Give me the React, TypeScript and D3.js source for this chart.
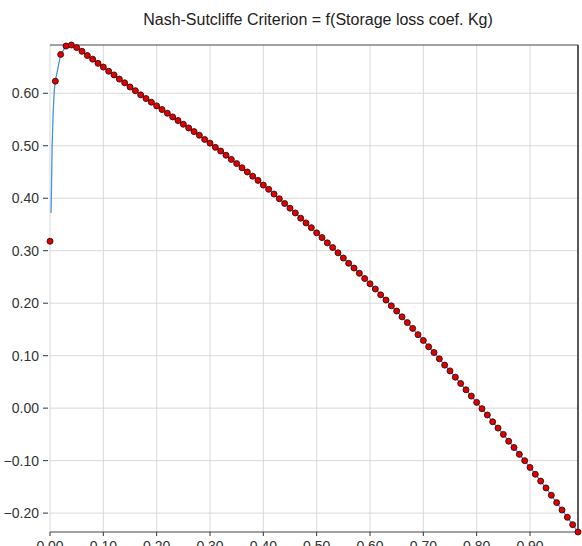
import React from 'react'
import * as d3 from 'd3'

// storage loss coefficient Kg, sampled every 0.01
const kg = d3.range(100).map(i => +(i * 0.01).toFixed(2));

// Nash-Sutcliffe value at each Kg
const nash = [
  0.318, 0.623, 0.674, 0.690, 0.692, 0.687, 0.680, 0.672, 0.665, 0.657,
  0.650, 0.642, 0.635, 0.627, 0.620, 0.612, 0.605, 0.597, 0.590, 0.583,
  0.576, 0.569, 0.562, 0.555, 0.548, 0.541, 0.534, 0.527, 0.520, 0.512,
  0.505, 0.497, 0.490, 0.482, 0.474, 0.466, 0.458, 0.450, 0.442, 0.434,
  0.425, 0.417, 0.408, 0.399, 0.390, 0.381, 0.372, 0.362, 0.353, 0.344,
  0.334, 0.325, 0.315, 0.306, 0.296, 0.286, 0.276, 0.267, 0.257, 0.247,
  0.237, 0.227, 0.216, 0.206, 0.195, 0.185, 0.174, 0.163, 0.152, 0.140,
  0.129, 0.117, 0.106, 0.094, 0.082, 0.071, 0.059, 0.047, 0.035, 0.023,
  0.011, -0.001, -0.013, -0.026, -0.038, -0.050, -0.063, -0.075, -0.088, -0.100,
  -0.113, -0.126, -0.139, -0.152, -0.166, -0.180, -0.194, -0.208, -0.222, -0.236,
];

// finer samples of the blue curve near the origin
const headKg = [0.002, 0.004, 0.006, 0.008];
const headNash = [0.372, 0.500, 0.565, 0.605];

const xTicks = [0, 0.1, 0.2, 0.3, 0.4, 0.5, 0.6, 0.7, 0.8, 0.9];
const yTicks = [-0.2, -0.1, 0, 0.1, 0.2, 0.3, 0.4, 0.5, 0.6];

const title = 'Nash-Sutcliffe Criterion = f(Storage loss coef. Kg)';

const width = 582;
const height = 546;
const left = 50;
const right = 578;
const top = 45;
const bottom = 532;

const x = d3.scaleLinear().domain([0, 0.99]).range([left, right]);
const y = d3.scaleLinear().domain([-0.236, 0.692]).range([bottom, top]);

const linePts: [number, number][] = [
  ...headKg.map((k, i) => [k, headNash[i]] as [number, number]),
  ...kg.slice(1).map((k, i) => [k, nash[i + 1]] as [number, number]),
];

const line = d3.line<[number, number]>()
  .x(d => x(d[0]))
  .y(d => y(d[1]));

const font = '"Liberation Sans", Arial, sans-serif';
const fmt = d3.format('.2f');

const App = () => (
  <svg
    width={width}
    height={height}
    style={{ position: 'absolute', left: 0, top: 0, background: '#fff' }}
    fontFamily={font}
  >
    <text x={318} y={25} textAnchor='middle' fontSize={16} fill='#222'>
      {title}
    </text>

    {xTicks.map(t => (
      <line key={'gx' + t} x1={x(t)} x2={x(t)} y1={top} y2={bottom} stroke='#d9d9d9' />
    ))}
    {yTicks.map(t => (
      <line key={'gy' + t} x1={left} x2={right} y1={y(t)} y2={y(t)} stroke='#d9d9d9' />
    ))}

    <line x1={left} x2={right} y1={top} y2={top} stroke='#444' />
    <line x1={right} x2={right} y1={top} y2={bottom} stroke='#222' strokeWidth={1.5} />
    <line x1={left} x2={right} y1={bottom} y2={bottom} stroke='#444' />

    {yTicks.map(t => (
      <g key={'ty' + t}>
        <line x1={43} x2={48} y1={y(t)} y2={y(t)} stroke='#333' />
        <text x={39} y={y(t)} dy='0.35em' textAnchor='end' fontSize={14} fill='#333'>
          {fmt(t)}
        </text>
      </g>
    ))}
    {xTicks.map(t => (
      <g key={'tx' + t}>
        <line x1={x(t)} x2={x(t)} y1={bottom} y2={bottom + 4} stroke='#333' />
        <text x={x(t)} y={bottom + 19} textAnchor='middle' fontSize={14} fill='#333'>
          {fmt(t)}
        </text>
      </g>
    ))}

    <path d={line(linePts) || ''} fill='none' stroke='#4a94dc' strokeWidth={1.3} />

    {kg.map((k, i) => (
      <circle key={i} cx={x(k)} cy={y(nash[i])} r={3} fill='#e00000' stroke='#3a0a0a' strokeWidth={0.9} />
    ))}
  </svg>
);

export default App
